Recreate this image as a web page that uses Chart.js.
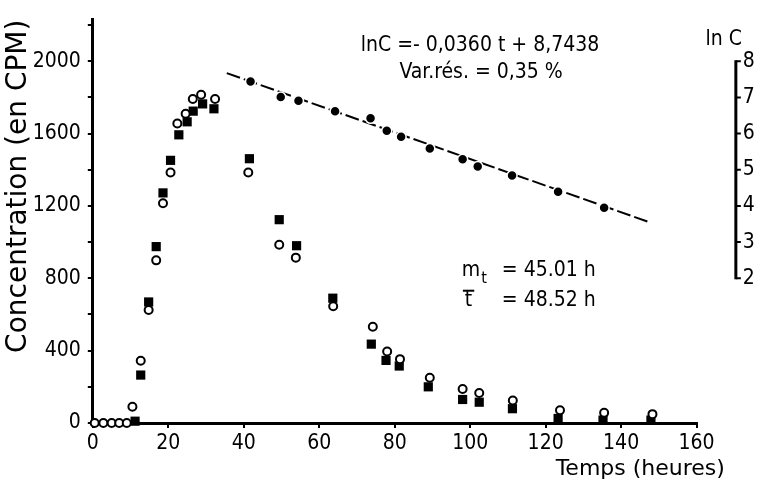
<!DOCTYPE html>
<html lang="fr">
<head>
  <meta charset="UTF-8" />
  <title>Concentration en fonction du temps</title>
  <script src="https://cdn.jsdelivr.net/npm/chart.js"></script>
  <style>
    html, body {
      margin: 0;
      padding: 0;
      background: #fff;
    }
  </style>
</head>
<body>
  <canvas id="concChart" width="761" height="483"></canvas>

  <script>
    // open circles (concentration, CPM)
    const openT = [0.5, 2.8, 5, 7, 9, 10.5, 12.7, 14.8, 16.8, 18.6, 20.6, 22.4, 24.6, 26.5, 28.7, 32.4,
      41.2, 49.4, 53.8, 63.7, 74.2, 78, 81.4, 89.3, 98, 102.4, 111.3, 123.8, 135.5, 148.3];
    const openC = [0, 0, 0, 0, 0, 90, 344, 625, 899, 1215, 1385, 1656, 1710, 1791, 1815, 1791,
      1385, 985, 914, 645, 532, 395, 353, 250, 188, 166, 124, 70, 56, 49];

    // filled squares (concentration, CPM)
    const squareT = [11.2, 12.7, 14.8, 16.8, 18.6, 20.6, 22.8, 25.0, 26.6, 29.1, 32.1,
      41.5, 49.4, 54.0, 63.6, 73.8, 77.7, 81.2, 88.9, 98, 102.4, 111.2, 123.3, 135.2, 147.9];
    const squareC = [10, 265, 669, 975, 1272, 1452, 1593, 1665, 1724, 1764, 1737,
      1461, 1124, 980, 690, 436, 346, 315, 200, 130, 115, 79, 25, 16, 16];

    // filled circles (ln C, right axis)
    const lnT = [41.8, 49.8, 54.5, 64.2, 73.6, 77.9, 81.7, 89.3, 98, 102, 111.1, 123.3, 135.5];
    const lnC = [7.44, 7.01, 6.91, 6.62, 6.42, 6.08, 5.91, 5.59, 5.29, 5.09, 4.84, 4.39, 3.95];

    // regression line ends
    const fitT = [35.5, 147.2];
    const fitLn = [7.67, 3.56];

    // axes
    const xTicks = [0, 20, 40, 60, 80, 100, 120, 140, 160];
    const yTickMarks = [0, 200, 400, 600, 800, 1000, 1200, 1400, 1600, 1800, 2000, 2200];
    const yTickLabels = [0, 400, 800, 1200, 1600, 2000];
    const lnTicks = [2, 3, 4, 5, 6, 7, 8];

    const toXY = (xs, ys) => xs.map((v, i) => ({ x: v, y: ys[i] }));

    const tickFont = { family: '"Liberation Sans Narrow", "DejaVu Sans Condensed", sans-serif', size: 21 };
    const textFont = '"DejaVu Sans Condensed", "DejaVu Sans", sans-serif';

    // right hand ln C axis and the written notes
    const notes = {
      id: 'notes',
      afterDraw(chart) {
        const { ctx } = chart;
        const { x, y, yln } = chart.scales;
        ctx.save();
        ctx.fillStyle = '#000';
        ctx.strokeStyle = '#000';

        // ln C axis, sits at t = 170.4 on the time scale
        const ax = x.getPixelForValue(170.4);
        const top = yln.getPixelForValue(lnTicks[lnTicks.length - 1]);
        const bot = yln.getPixelForValue(lnTicks[0]);
        ctx.lineWidth = 3;
        ctx.beginPath();
        ctx.moveTo(ax, top - 1);
        ctx.lineTo(ax, bot + 1);
        ctx.stroke();
        ctx.lineWidth = 2;
        ctx.beginPath();
        lnTicks.forEach(v => {
          const py = yln.getPixelForValue(v);
          ctx.moveTo(ax, py);
          ctx.lineTo(ax + 5, py);
        });
        ctx.stroke();
        ctx.font = `21px ${tickFont.family}`;
        ctx.textAlign = 'left';
        ctx.textBaseline = 'middle';
        lnTicks.forEach(v => ctx.fillText(String(v), ax + 7, yln.getPixelForValue(v)));

        ctx.font = `21px ${textFont}`;
        ctx.textAlign = 'right';
        ctx.fillText('ln C', x.getPixelForValue(172), yln.getPixelForValue(8.6));

        // regression text
        ctx.textAlign = 'center';
        ctx.fillText('lnC =- 0,0360 t + 8,7438', x.getPixelForValue(102.6), y.getPixelForValue(2084));
        ctx.fillText('Var.rés. = 0,35 %', x.getPixelForValue(102.9), y.getPixelForValue(1935));

        // moments
        ctx.textAlign = 'left';
        const mx = x.getPixelForValue(97.8);
        const eqx = x.getPixelForValue(108.4);
        const my = y.getPixelForValue(843);
        ctx.fillText('m', mx, my);
        const mw = ctx.measureText('m').width;
        ctx.font = `16px ${textFont}`;
        ctx.fillText('t', mx + mw + 1, my + 8);
        ctx.font = `21px ${textFont}`;
        ctx.fillText('= 45.01 h', eqx, my);
        const ty = y.getPixelForValue(676);
        ctx.fillText('t', mx + 3, ty);
        const tw = ctx.measureText('t').width;
        ctx.lineWidth = 2;
        ctx.beginPath();
        ctx.moveTo(mx + 1, ty - 10);
        ctx.lineTo(mx + 5 + tw, ty - 10);
        ctx.stroke();
        ctx.fillText('= 48.52 h', eqx, ty);

        // time axis title
        ctx.textAlign = 'right';
        ctx.font = `22px "DejaVu Sans", sans-serif`;
        ctx.fillText('Temps (heures)', x.getPixelForValue(167.5), y.getPixelForValue(-254));
        ctx.restore();
      }
    };

    new Chart(document.getElementById('concChart'), {
      type: 'scatter',
      data: {
        datasets: [
          {
            label: 'ln C régression',
            data: toXY(fitT, fitLn),
            yAxisID: 'yln',
            showLine: true,
            borderColor: '#000',
            borderWidth: 2,
            borderDash: [14, 4],
            pointRadius: 0,
            clip: false,
            order: 4
          },
          {
            label: 'ln C',
            data: toXY(lnT, lnC),
            yAxisID: 'yln',
            pointStyle: 'circle',
            pointRadius: 5,
            backgroundColor: '#000',
            borderColor: '#fff',
            borderWidth: 1.5,
            clip: false,
            order: 3
          },
          {
            label: 'carrés',
            data: toXY(squareT, squareC),
            pointStyle: 'rect',
            pointRadius: 6.5,
            backgroundColor: '#000',
            borderWidth: 0,
            clip: false,
            order: 2
          },
          {
            label: 'cercles',
            data: toXY(openT, openC),
            pointStyle: 'circle',
            pointRadius: 4,
            backgroundColor: '#fff',
            borderColor: '#000',
            borderWidth: 2,
            clip: false,
            order: 1
          }
        ]
      },
      options: {
        responsive: false,
        animation: false,
        layout: {
          autoPadding: false,
          padding: { top: 10.5, right: 64.4, bottom: 0, left: 0 }
        },
        plugins: {
          legend: { display: false },
          tooltip: { enabled: false }
        },
        scales: {
          x: {
            type: 'linear',
            position: 'bottom',
            min: 0,
            max: 160,
            afterBuildTicks: s => { s.ticks = xTicks.map(v => ({ value: v })); },
            afterFit: s => { s.height = 60; },
            border: { display: true, color: '#000', width: 3 },
            grid: { drawOnChartArea: false, drawTicks: true, tickLength: 5, color: '#000', lineWidth: 2 },
            ticks: { color: '#000', font: tickFont, padding: 3, maxRotation: 0 }
          },
          y: {
            type: 'linear',
            position: 'left',
            min: 0,
            max: 2230,
            afterBuildTicks: s => { s.ticks = yTickMarks.map(v => ({ value: v })); },
            afterFit: s => { s.width = 92.8; },
            border: { display: true, color: '#000', width: 3 },
            grid: { drawOnChartArea: false, drawTicks: true, tickLength: 5, color: '#000', lineWidth: 2 },
            ticks: {
              color: '#000',
              font: tickFont,
              padding: 7,
              callback: v => (yTickLabels.includes(v) ? String(v) : '')
            },
            title: {
              display: true,
              text: 'Concentration (en CPM)',
              align: 'end',
              color: '#000',
              font: { family: '"DejaVu Sans", sans-serif', size: 28 },
              padding: { top: 2, bottom: 0 }
            }
          },
          yln: {
            type: 'linear',
            display: false,
            min: -2,
            max: 9.15
          }
        }
      },
      plugins: [notes]
    });
  </script>
</body>
</html>
